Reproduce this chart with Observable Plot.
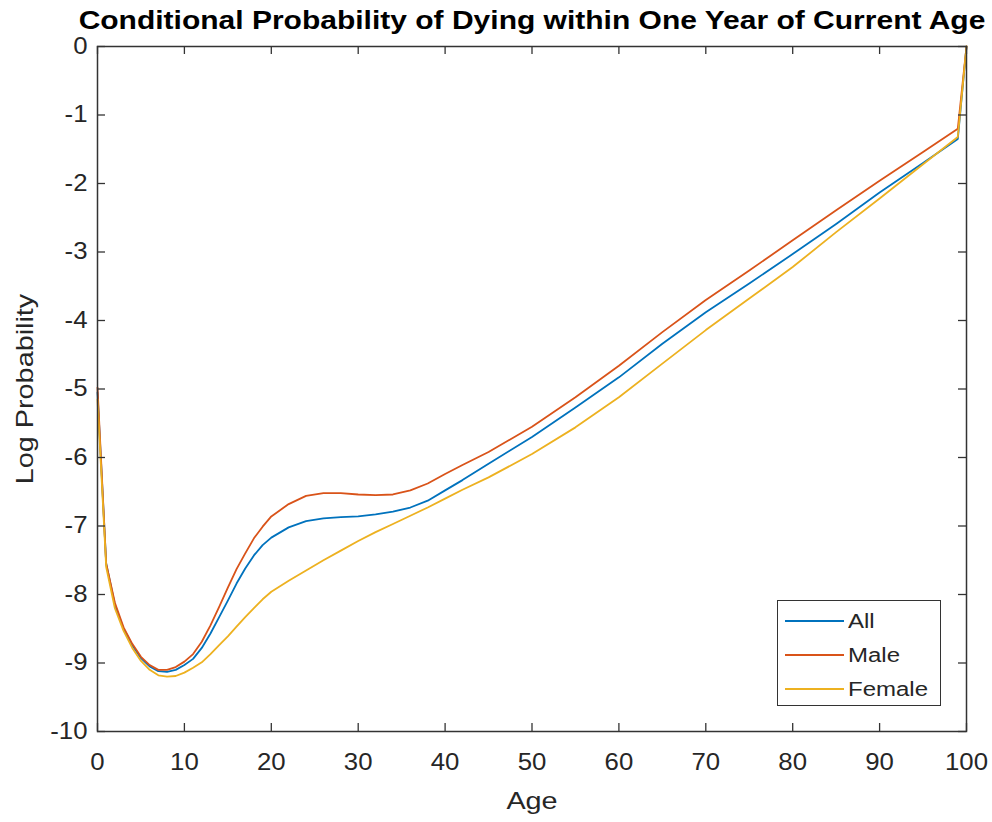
<!DOCTYPE html>
<html>
<head>
<meta charset="utf-8">
<script src="https://cdn.jsdelivr.net/npm/d3@7"></script>
<script src="https://cdn.jsdelivr.net/npm/@observablehq/plot@0.6"></script>
<style>
  body { margin: 0; background: #fff; }
  #wrap { position: relative; width: 992px; height: 822px; font-family: "Liberation Sans", Arial, sans-serif; color: #262626; }
  #title { position: absolute; top: 8px; left: 531.5px; white-space: nowrap; font-weight: bold; font-size: 25px; line-height: 25px; color: #000;
           transform: translateX(-50%) scaleX(1.2); }
  #legend { position: absolute; left: 777px; top: 600px; width: 164px; height: 106px; box-sizing: border-box; border: 1.5px solid #333; background: #fff; }
  .row { position: absolute; left: 0; height: 0; }
  .sw { position: absolute; left: 7px; width: 59px; height: 0; border-top: 2px solid; top: -1px; }
  .lab { position: absolute; left: 70px; top: -12px; font-size: 20px; line-height: 24px; white-space: nowrap; transform: scaleX(1.2); transform-origin: left center; color: #262626; }
</style>
</head>
<body>
<div id="wrap">
  <div id="chart"></div>
  <div id="title"></div>
  <div id="legend"></div>
</div>
<script>
const titleText = "Conditional Probability of Dying within One Year of Current Age";
const xLabel = "Age";
const yLabel = "Log Probability";
const seriesNames = ["All", "Male", "Female"];
const seriesColors = ["#0072BD", "#D95319", "#EDB120"];
const xTicks = [0, 10, 20, 30, 40, 50, 60, 70, 80, 90, 100];
const yTicks = [0, -1, -2, -3, -4, -5, -6, -7, -8, -9, -10];

const ages = [0,1,2,3,4,5,6,7,8,9,10,11,12,13,14,15,16,17,18,19,20,22,24,26,28,30,32,34,36,38,40,42,45,50,55,60,65,70,75,80,85,90,95,99,100];
const allVals = [-5.05,-7.55,-8.15,-8.5,-8.74,-8.93,-9.05,-9.12,-9.13,-9.1,-9.03,-8.94,-8.78,-8.57,-8.33,-8.09,-7.84,-7.62,-7.43,-7.28,-7.17,-7.02,-6.93,-6.89,-6.87,-6.86,-6.83,-6.79,-6.73,-6.63,-6.48,-6.33,-6.09,-5.70,-5.27,-4.83,-4.34,-3.88,-3.46,-3.03,-2.59,-2.13,-1.70,-1.35,0];
const maleVals = [-4.98,-7.55,-8.12,-8.48,-8.72,-8.91,-9.03,-9.1,-9.1,-9.06,-8.98,-8.87,-8.69,-8.45,-8.18,-7.90,-7.63,-7.40,-7.18,-7.01,-6.86,-6.68,-6.56,-6.52,-6.52,-6.54,-6.55,-6.54,-6.48,-6.38,-6.24,-6.11,-5.92,-5.55,-5.12,-4.66,-4.17,-3.70,-3.27,-2.83,-2.39,-1.96,-1.54,-1.20,0];
const femaleVals = [-5.15,-7.6,-8.2,-8.53,-8.78,-8.97,-9.1,-9.18,-9.2,-9.19,-9.14,-9.07,-8.99,-8.87,-8.74,-8.61,-8.47,-8.33,-8.20,-8.07,-7.96,-7.80,-7.65,-7.50,-7.36,-7.22,-7.09,-6.97,-6.85,-6.73,-6.60,-6.47,-6.29,-5.95,-5.56,-5.12,-4.63,-4.14,-3.68,-3.22,-2.71,-2.22,-1.72,-1.32,0];

const seriesValues = [allVals, maleVals, femaleVals];
const data = [];
seriesNames.forEach((s, i) => ages.forEach((a, j) => data.push({series: s, age: a, value: seriesValues[i][j]})));

const W = 992, H = 822, mL = 97, mR = 26, mT = 46, mB = 91;
const innerW = W - mL - mR, innerH = H - mT - mB, tk = 8;
const axisColor = "#333";

const plot = Plot.plot({
  width: W, height: H,
  marginLeft: mL, marginRight: mR, marginTop: mT, marginBottom: mB,
  style: {fontFamily: "Liberation Sans, Arial, sans-serif", fontSize: "23px", color: "#262626", background: "#fff", overflow: "visible"},
  x: {domain: [0, 100]},
  y: {domain: [-10, 0]},
  color: {domain: seriesNames, range: seriesColors},
  marks: [
    Plot.line(data, {x: "age", y: "value", z: "series", stroke: "series", strokeWidth: 1.8, curve: "linear"}),
    Plot.tickX(xTicks, {x: d => d, stroke: axisColor, strokeWidth: 1.3, insetTop: innerH - tk}),
    Plot.tickX(xTicks, {x: d => d, stroke: axisColor, strokeWidth: 1.3, insetBottom: innerH - tk}),
    Plot.tickY(yTicks, {y: d => d, stroke: axisColor, strokeWidth: 1.3, insetRight: innerW - tk}),
    Plot.tickY(yTicks, {y: d => d, stroke: axisColor, strokeWidth: 1.3, insetLeft: innerW - tk}),
    Plot.frame({stroke: axisColor, strokeWidth: 1.5}),
    Plot.axisX({ticks: xTicks, tickSize: 0, tickPadding: 22, label: null, tickFormat: d => String(d), fontSize: 23}),
    Plot.axisY({ticks: yTicks, tickSize: 0, tickPadding: 10, label: null, tickFormat: d => String(d), fontSize: 23}),
    Plot.text([xLabel], {text: d => d, frameAnchor: "bottom", dy: 70, textAnchor: "middle", lineAnchor: "middle", fontSize: 24}),
    Plot.text([yLabel], {text: d => d, frameAnchor: "left", dx: -72, rotate: -90, textAnchor: "middle", lineAnchor: "middle", fontSize: 24})
  ]
});
document.getElementById("chart").appendChild(plot);

// horizontal stretch to mimic the wide reference font
d3.select(plot).selectAll("text").each(function() {
  const t = this.textContent;
  const f = (t === xLabel || t === yLabel) ? 1.2 : 1.12;
  const len = this.getComputedTextLength();
  if (len > 0) {
    this.setAttribute("textLength", len * f);
    this.setAttribute("lengthAdjust", "spacingAndGlyphs");
  }
});

document.getElementById("title").textContent = titleText;

const legend = document.getElementById("legend");
const rowY = [20, 54, 88];
seriesNames.forEach((s, i) => {
  const row = document.createElement("div");
  row.className = "row";
  row.style.top = rowY[i] + "px";
  const sw = document.createElement("div");
  sw.className = "sw";
  sw.style.borderTopColor = seriesColors[i];
  const lab = document.createElement("div");
  lab.className = "lab";
  lab.textContent = s;
  row.appendChild(sw);
  row.appendChild(lab);
  legend.appendChild(row);
});
</script>
</body>
</html>
